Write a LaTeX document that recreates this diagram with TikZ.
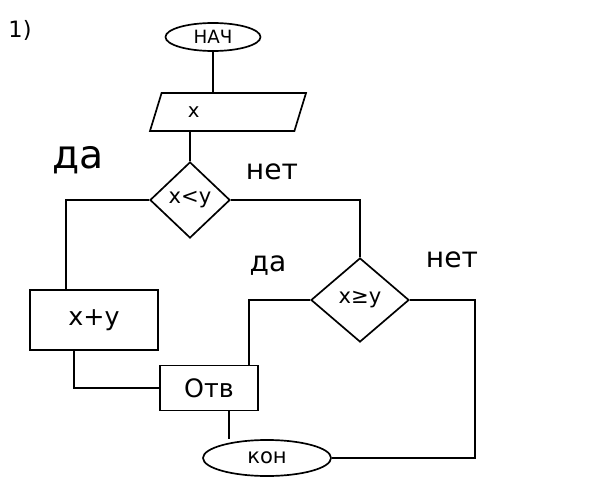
\documentclass[tikz,border=0pt]{standalone}
\usepackage{fontspec}
\setmainfont{DejaVu Sans}
\usetikzlibrary{positioning, shapes.geometric}
\tikzset{
    term/.style = {ellipse, draw, line width=1.2pt, inner sep=0pt,
                   font=\fontsize{13}{15}\selectfont},
    iobox/.style = {trapezium, trapezium left angle=60, trapezium right angle=120,
                    draw, line width=1.2pt, minimum height=0.95cm,
                    text width=2.0cm, align=left, font=\fontsize{14}{16}\selectfont},
    cond/.style = {diamond, draw, line width=1.2pt, inner sep=0pt,
                   font=\fontsize{15}{17}\selectfont},
    proc/.style = {rectangle, draw, line width=1.2pt,
                   font=\fontsize{18}{20}\selectfont},
    flow/.style = {line width=1.2pt},
    yesno/.style = {font=\fontsize{20}{24}\selectfont},
}

\begin{document}
\begin{tikzpicture}[x=0.025cm, y=-0.025cm]
    \useasboundingbox (0,0) rectangle (600,480);
    \node[font=\fontsize{16}{18}\selectfont] (num) at (20,30) {1)};
    % blocks
    \node[term, minimum width=2.375cm, minimum height=0.7cm] (start) at (213,37) {НАЧ};
    \node[iobox, trapezium stretches body, minimum width=3.9cm] (inp) at (228,112) {x};
    \node[cond, minimum width=2cm, minimum height=1.9cm] (cond1) at (190,200) {x<y};
    \node[proc, minimum width=3.2cm, minimum height=1.5cm] (sumbox) at (94,320) {x+y};
    \node[cond, minimum width=2.45cm, minimum height=2.1cm] (cond2) at (360,300) {x≥y};
    \node[proc, minimum width=2.45cm, minimum height=1.12cm] (outbox) at (209,388) {Отв};
    \node[term, minimum width=3.2cm, minimum height=0.9cm, font=\fontsize{15}{17}\selectfont] (stop) at (267,458) {кон};
    \coordinate (rside) at (475,300);
    % labels
    \node[yesno, font=\fontsize{28}{32}\selectfont] (yes1) at (78,160) {да};
    \node[yesno] (no1) at (272,172) {нет};
    \node[yesno] (yes2) at (268,266) {да};
    \node[yesno] (no2) at (452,260) {нет};
    % connectors
    \draw[flow] (start) -- (start |- inp.north);
    \draw[flow] (inp.south -| cond1) -- (cond1);
    \draw[flow] (cond1.west) -| ([xshift=-0.7cm]sumbox.north);
    \draw[flow] (cond1.east) -| (cond2.north);
    \draw[flow] (cond2.west) -| ([xshift=1cm]outbox.north);
    \draw[flow] (cond2.east) -- (rside) |- (stop.east);
    \draw[flow] ([xshift=-0.5cm]sumbox.south) |- (outbox.west);
    \draw[flow] ([xshift=0.5cm]outbox.south) coordinate (ob) -- (ob |- stop.north);
\end{tikzpicture}
\end{document}
